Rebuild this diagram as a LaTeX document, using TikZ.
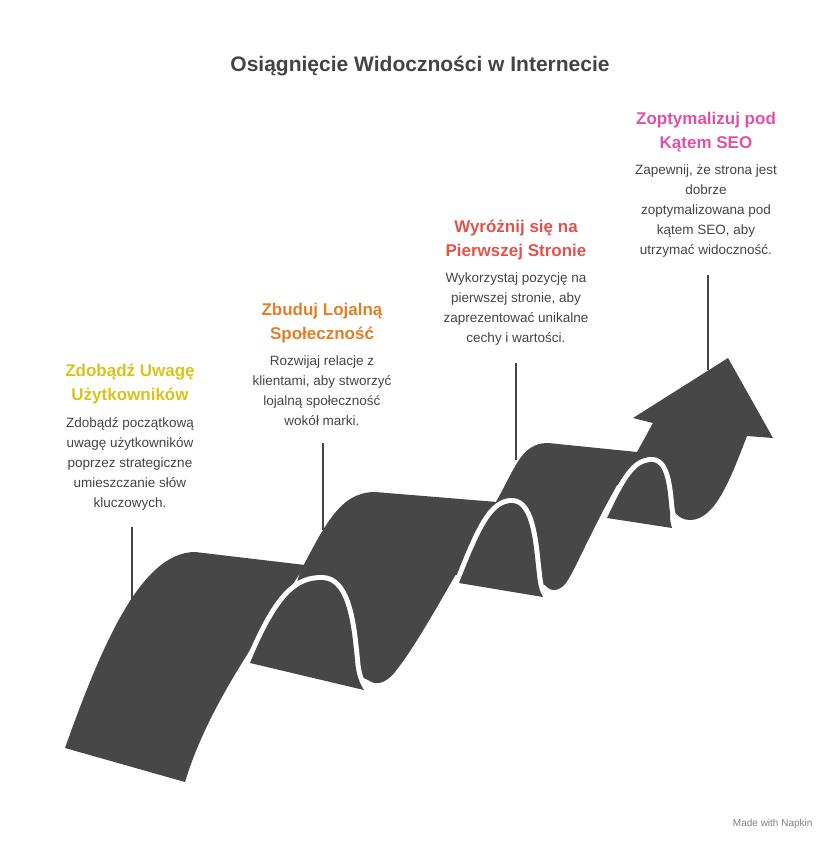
\documentclass[tikz,border=0pt]{standalone}
\usepackage{fontspec}
\setmainfont{Liberation Sans}
\usetikzlibrary{positioning}

\definecolor{ribbon}{HTML}{474747}
\definecolor{ink}{HTML}{444444}
\definecolor{cyellow}{HTML}{D8C21B}
\definecolor{corange}{HTML}{E07F26}
\definecolor{cred}{HTML}{E2534C}
\definecolor{cpink}{HTML}{DC52A8}

\begin{document}
\begin{tikzpicture}[x=1pt,y=-1pt,
  panel/.style={fill=ribbon},
  hillgap/.style={fill=ribbon,draw=white,line width=10pt,line join=round},
  heading/.style={font=\fontsize{17}{24}\selectfont\bfseries,align=center},
  body/.style={font=\fontsize{13.5}{20}\selectfont,text=ink,align=center},
  leader/.style={draw=ink,line width=1.3pt}]

  \useasboundingbox (0,0) rectangle (840,852);

  \node[font=\fontsize{21}{24}\selectfont\bfseries,text=ink] (title) at (420,66) {Osiągnięcie Widoczności w Internecie};

  % front panels
  \fill[panel] (65,748) .. controls (100,650) and (140,552) .. (195,552) -- (305,565)
    .. controls (265,630) and (210,700) .. (185,782) -- cycle;
  \fill[panel] (300,572) .. controls (325,525) and (340,492) .. (375,492) -- (497,502)
    .. controls (455,575) and (420,640) .. (398,668) .. controls (390,680) and (378,688) .. (368,680) -- (280,640) -- cycle;
  \fill[panel] (493,507) .. controls (515,470) and (520,443) .. (548,443) -- (637,452)
    .. controls (600,510) and (580,560) .. (568,580) .. controls (562,590) and (552,594) .. (545,585) -- (455,575) -- cycle;
  \fill[panel] (637,452) -- (653,423) -- (633,418) -- (728,358) -- (773,438) -- (747,436)
    .. controls (730,480) and (715,520) .. (690,520) .. controls (678,520) and (672,510) .. (668,500) -- (600,480) -- cycle;

  % folds
  \path[hillgap] (250,663) .. controls (280,590) and (300,580) .. (322,580) .. controls (348,580) and (352,630) .. (355,660)
    .. controls (356,675) and (360,684) .. (364,690) -- cycle;
  \fill[panel] (250,663) .. controls (280,590) and (300,580) .. (322,580) .. controls (348,580) and (352,630) .. (355,660)
    .. controls (356,675) and (360,684) .. (364,690) -- cycle;
  \path[hillgap] (459,583) .. controls (480,530) and (492,503) .. (512,503) .. controls (532,503) and (534,550) .. (537,575)
    .. controls (538,585) and (540,592) .. (543,597) -- cycle;
  \fill[panel] (459,583) .. controls (480,530) and (492,503) .. (512,503) .. controls (532,503) and (534,550) .. (537,575)
    .. controls (538,585) and (540,592) .. (543,597) -- cycle;
  \path[hillgap] (607,518) .. controls (625,480) and (635,462) .. (652,462) .. controls (668,462) and (668,500) .. (670,512)
    .. controls (670,518) and (670,522) .. (672,528) -- cycle;
  \fill[panel] (607,518) .. controls (625,480) and (635,462) .. (652,462) .. controls (668,462) and (668,500) .. (670,512)
    .. controls (670,518) and (670,522) .. (672,528) -- cycle;

  % stages
  \node[heading,text=cyellow] (h1) at (130,384) {Zdobądź Uwagę\\Użytkowników};
  \node[body,below=6pt of h1] (b1) {Zdobądź początkową\\uwagę użytkowników\\poprzez strategiczne\\umieszczanie słów\\kluczowych.};
  \node[heading,text=corange] (h2) at (322,323) {Zbuduj Lojalną\\Społeczność};
  \node[body,below=6pt of h2] (b2) {Rozwijaj relacje z\\klientami, aby stworzyć\\lojalną społeczność\\wokół marki.};
  \node[heading,text=cred] (h3) at (516,240) {Wyróżnij się na\\Pierwszej Stronie};
  \node[body,below=6pt of h3] (b3) {Wykorzystaj pozycję na\\pierwszej stronie, aby\\zaprezentować unikalne\\cechy i wartości.};
  \node[heading,text=cpink] (h4) at (706,132) {Zoptymalizuj pod\\Kątem SEO};
  \node[body,below=6pt of h4] (b4) {Zapewnij, że strona jest\\dobrze\\zoptymalizowana pod\\kątem SEO, aby\\utrzymać widoczność.};

  \coordinate (l1) at (132,600);
  \coordinate (l2) at (323,530);
  \coordinate (l3) at (516,460);
  \coordinate (l4) at (708,370);
  \draw[leader] (b1.south -| l1) ++(0,14) -- (l1);
  \draw[leader] (b2.south -| l2) ++(0,14) -- (l2);
  \draw[leader] (b3.south -| l3) ++(0,14) -- (l3);
  \draw[leader] (b4.south -| l4) ++(0,14) -- (l4);

  \node[font=\fontsize{10}{12}\selectfont,text=gray,anchor=east] (made) at (816,824) {Made with Napkin};
\end{tikzpicture}
\end{document}
